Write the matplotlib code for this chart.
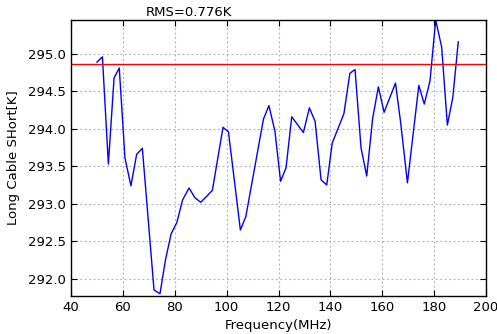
import matplotlib
matplotlib.use("Agg")
import matplotlib.pyplot as plt

freq_mhz = [50.0, 52.1, 54.4, 56.6, 58.6, 60.8, 63.1, 65.3, 67.5, 72.0, 74.3, 76.4,
            78.6, 80.8, 83.0, 85.5, 87.8, 90.0, 92.3, 94.5, 98.6, 100.7, 105.3, 107.4,
            114.2, 116.3, 118.6, 120.8, 122.9, 125.1, 129.6, 131.9, 134.1, 136.4,
            138.6, 140.7, 145.2, 147.5, 149.5, 151.8, 154.0, 156.3, 158.5, 160.7,
            165.1, 167.1, 169.7, 174.1, 176.2, 178.4, 180.6, 182.9, 185.1, 187.2, 189.3]
temp_k = [294.89, 294.96, 293.53, 294.68, 294.81, 293.61, 293.24, 293.66, 293.74,
          291.85, 291.80, 292.25, 292.60, 292.75, 293.05, 293.21, 293.08, 293.02,
          293.10, 293.18, 294.02, 293.96, 292.65, 292.83, 294.13, 294.31, 293.97,
          293.30, 293.48, 294.16, 293.95, 294.28, 294.10, 293.32, 293.25, 293.81,
          294.20, 294.74, 294.79, 293.75, 293.37, 294.14, 294.56, 294.22, 294.61,
          294.08, 293.28, 294.58, 294.33, 294.64, 295.45, 295.09, 294.05, 294.42, 295.16]
mean_level = 294.867
rms_label = "RMS=0.776K"

fig = plt.figure(figsize=(4.97, 3.34), dpi=100)
ax = fig.add_axes([0.1429, 0.1138, 0.835, 0.826])
ax.plot(freq_mhz, temp_k, color="#0000ff", linewidth=1.0)
ax.axhline(mean_level, color="#ff0000", linewidth=1.0)
ax.set_xlim(40, 200)
ax.set_ylim(291.77, 295.45)
ax.set_xticks(range(40, 201, 20))
ax.set_yticks([292.0, 292.5, 293.0, 293.5, 294.0, 294.5, 295.0])
ax.set_yticklabels(["292.0", "292.5", "293.0", "293.5", "294.0", "294.5", "295.0"])
ax.grid(True, color="#aaaaaa", linestyle=(0, (1.5, 2.5)), linewidth=0.8)
ax.tick_params(direction="in", top=True, right=True, labelsize=9.5, length=4, colors="black")
for s in ax.spines.values():
    s.set_color("black")
    s.set_linewidth(1.0)
ax.set_xlabel("Frequency(MHz)", fontsize=9.5, labelpad=4)
ax.set_ylabel("Long Cable SHort[K]", fontsize=9.5, labelpad=6)
fig.text(0.381, 0.942, rms_label, fontsize=9.5, ha="center", va="bottom")
fig.savefig("out.png", dpi=100)
